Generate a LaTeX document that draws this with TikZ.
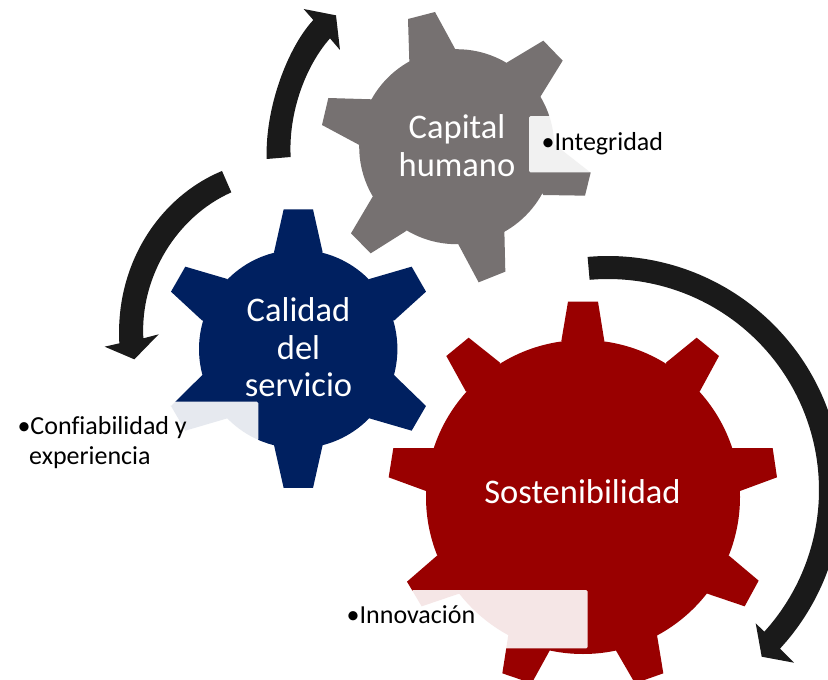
\documentclass[tikz,border=0pt]{standalone}
\usepackage{fontspec}
\setmainfont[Ligatures=NoCommon]{Carlito}
\definecolor{gearGray}{RGB}{118,113,113}
\definecolor{gearBlue}{RGB}{0,32,96}
\definecolor{gearRed}{RGB}{153,0,0}
\definecolor{arrowBlack}{RGB}{26,26,26}
\tikzset{
  zoomed/.style={x=0.33333pt,y=-0.33333pt},
  veil/.style={fill=white,fill opacity=0.9,rounded corners=1.5pt},
  geartitle/.style={text=white,font=\fontsize{34.5}{37.2}\selectfont,align=center,inner sep=0pt},
  bullet/.style={text=black,font=\fontsize{26}{30}\selectfont,align=left,inner sep=0pt,anchor=base west},
}
\begin{document}
\begin{tikzpicture}[x=1pt,y=-1pt]
\clip (0,0) rectangle (828,680);
\fill[white] (0,0) rectangle (828,680);
% grey gear
\fill[gearGray] (456.7,146.7) circle (97.5pt);
\begin{scope}[shift={(320,0)},zoomed]
\fill[gearGray] (268,185)--(264,57)--(345,36)--(406,148)--(430,200)--cycle;
\fill[gearGray] (560,188)--(670,122)--(728,182)--(660,292)--(600,260)--cycle;
\fill[gearGray] (693,425)--(812,518)--(795,587)--(670,585)--(620,500)--cycle;
\fill[gearGray] (553,690)--(556,815)--(476,847)--(415,733)--(450,680)--cycle;
\fill[gearGray] (260,692)--(152,760)--(93,700)--(158,590)--(220,620)--cycle;
\fill[gearGray] (118,435)--(6,375)--(25,294)--(158,298)--(180,370)--cycle;
\end{scope}
% blue gear
\fill[gearBlue] (298.2,349) circle (99.2pt);
\begin{scope}[shift={(0,200)},zoomed]
\fill[gearBlue] (822,157)--(851,28)--(939,28)--(968,157)--(895,220)--cycle;
\fill[gearBlue] (1108,237)--(1235,200)--(1278,275)--(1182,362)--(1080,320)--cycle;
\fill[gearBlue] (1182,525)--(1278,618)--(1235,692)--(1108,655)--(1080,570)--cycle;
\fill[gearBlue] (968,735)--(939,864)--(851,864)--(822,735)--(895,670)--cycle;
\fill[gearBlue] (682,655)--(556,692)--(513,618)--(607,525)--(710,570)--cycle;
\fill[gearBlue] (607,362)--(513,275)--(556,200)--(682,237)--(710,320)--cycle;
\end{scope}
% red gear
\fill[gearRed] (583,497) circle (157pt);
\begin{scope}[shift={(340,290)},zoomed]
\fill[gearRed] (664,153)--(684,35)--(774,35)--(793,153)--(729,220)--cycle;
\fill[gearRed] (978,218)--(1070,143)--(1137,198)--(1079,305)--(1000,300)--cycle;
\fill[gearRed] (1176,474)--(1298,474)--(1311,562)--(1200,603)--(1100,540)--cycle;
\fill[gearRed] (1167,797)--(1256,872)--(1214,949)--(1099,910)--(1080,830)--cycle;
\fill[gearRed] (951,1035)--(970,1150)--(885,1180)--(827,1080)--(880,1000)--cycle;
\fill[gearRed] (630,1080)--(575,1180)--(487,1150)--(505,1035)--(580,1000)--cycle;
\fill[gearRed] (360,910)--(245,949)--(201,875)--(291,797)--(380,830)--cycle;
\fill[gearRed] (258,603)--(146,562)--(160,474)--(282,474)--(360,540)--cycle;
\fill[gearRed] (378,305)--(319,198)--(386,143)--(480,218)--(460,300)--cycle;
\end{scope}
% gear titles
\node[geartitle,anchor=base] (capital) at (457,176) {Capital\\humano};
\node[geartitle,anchor=base] (calidad) at (298.5,396.2) {Calidad\\del\\servicio};
\node[geartitle,anchor=base] (sosten) at (582.5,503) {Sostenibilidad};
% translucent label panels
\fill[veil] (529,116) rectangle (591,172.3);
\fill[veil] (171,401.7) rectangle (258.3,440.7);
\fill[veil] (411.7,590) rectangle (587.7,648.3);
% circular arrows
\begin{scope}[shift={(100,0)},zoomed]
\fill[arrowBlack] (500,477) .. controls (495,320) and (565,140) .. (640,60)
  -- (611,27) -- (708,46) -- (720,150) -- (690,115)
  .. controls (615,200) and (565,340) .. (572,471) -- cycle;
\fill[arrowBlack] (366,513) .. controls (180,590) and (45,790) .. (58,1030)
  -- (14,1040) -- (103,1078) -- (176,1003) -- (130,1015)
  .. controls (120,830) and (230,650) .. (394,577) -- cycle;
\end{scope}
\fill[arrowBlack]
  plot[smooth,domain=-95:42.7,samples=60] ({608+234*cos(\x)},{490+234*sin(\x)})
  -- (794,662.7) -- (761.7,656.7) -- (755.7,623.3) -- (766.7,634)
  -- plot[smooth,domain=42.2:-95,samples=60] ({608+211*cos(\x)},{490+211*sin(\x)}) -- cycle;
% bullet labels
\node[bullet] (integridad) at (541.5,150) {•Integridad};
\node[bullet] (confiabilidad) at (17.3,464) {•Confiabilidad y\\\hspace*{11.7pt}experiencia};
\node[bullet] (innovacion) at (346.5,623) {•Innovación};
\end{tikzpicture}
\end{document}
